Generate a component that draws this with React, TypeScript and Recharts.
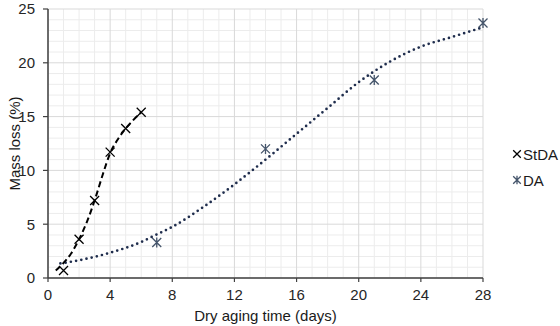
import { ComposedChart, Line, Scatter, XAxis, YAxis, ReferenceLine } from "recharts";

// measured mass loss
const stdaDays = [1, 2, 3, 4, 5, 6];
const stdaLoss = [0.7, 3.6, 7.2, 11.7, 13.9, 15.4];
const daDays = [7, 14, 21, 28];
const daLoss = [3.3, 12.0, 18.4, 23.7];

// smoothed trend curves
const stdaTrendDays = [0.5, 1, 1.5, 2, 2.5, 3, 3.5, 4, 4.5, 5, 5.5, 6];
const stdaTrendLoss = [0.7, 1.4, 2.3, 3.6, 5.2, 7.2, 9.5, 11.6, 12.9, 13.9, 14.7, 15.4];
const daTrendDays = [0.8, 2, 4, 6, 7, 8, 10, 12, 14, 16, 18, 20, 22, 24, 26, 28];
const daTrendLoss = [1.35, 1.65, 2.35, 3.35, 4.05, 4.75, 6.6, 8.7, 11.0, 13.4, 15.8, 18.2, 20.1, 21.5, 22.4, 23.3];

const xTicks = [0, 4, 8, 12, 16, 20, 24, 28];
const yTicks = [0, 5, 10, 15, 20, 25];

const toPoints = (xs: number[], ys: number[]) => xs.map((x, i) => ({ x, y: ys[i] }));

const stdaData = toPoints(stdaDays, stdaLoss);
const daData = toPoints(daDays, daLoss);
const stdaTrend = toPoints(stdaTrendDays, stdaTrendLoss);
const daTrend = toPoints(daTrendDays, daTrendLoss);

// minor grid every unit, major grid on the axis ticks
const xMinor = Array.from({ length: 28 }, (_, i) => i).filter((v) => v % 4 !== 0);
const yMinor = Array.from({ length: 25 }, (_, i) => i).filter((v) => v % 5 !== 0);

const FONT = "'Liberation Sans', Arial, sans-serif";
const AXIS = "#404040";
const DA_MARK = "#44546A";
const DA_LINE = "#1F2D4D";

function CrossMark({ cx, cy, color = "#000", r = 4.5 }: { cx?: number; cy?: number; color?: string; r?: number }) {
  if (cx == null || cy == null) return null;
  return (
    <path
      d={`M${cx - r},${cy - r}L${cx + r},${cy + r}M${cx - r},${cy + r}L${cx + r},${cy - r}`}
      stroke={color}
      strokeWidth={1.3}
      fill="none"
    />
  );
}

function StarMark({ cx, cy, color = DA_MARK, r = 4.5 }: { cx?: number; cy?: number; color?: string; r?: number }) {
  if (cx == null || cy == null) return null;
  return (
    <path
      d={`M${cx - r},${cy - r}L${cx + r},${cy + r}M${cx - r},${cy + r}L${cx + r},${cy - r}M${cx},${cy - r - 0.5}L${cx},${cy + r + 0.5}`}
      stroke={color}
      strokeWidth={1.3}
      fill="none"
    />
  );
}

function LegendRow({ top, label, star }: { top: number; label: string; star?: boolean }) {
  return (
    <div style={{ position: "absolute", left: 511, top, height: 20, display: "flex", alignItems: "center" }}>
      <svg width={12} height={20}>
        {star ? <StarMark cx={6} cy={10} r={3.8} /> : <CrossMark cx={6} cy={10} r={3.8} />}
      </svg>
      <span style={{ fontSize: 15, color: "#1a1a1a" }}>{label}</span>
    </div>
  );
}

export default function App() {
  return (
    <div style={{ position: "absolute", left: 0, top: 0, width: 560, height: 326, background: "#fff", fontFamily: FONT }}>
      <ComposedChart width={560} height={326} margin={{ top: 9, right: 77, bottom: 0, left: 0 }}>
        {xMinor.map((v) => (
          <ReferenceLine key={`xm${v}`} x={v} stroke="#ececec" strokeWidth={1} />
        ))}
        {yMinor.map((v) => (
          <ReferenceLine key={`ym${v}`} y={v} stroke="#ececec" strokeWidth={1} />
        ))}
        {xTicks.map((v) => (
          <ReferenceLine key={`xM${v}`} x={v} stroke="#d9d9d9" strokeWidth={1} />
        ))}
        {yTicks.map((v) => (
          <ReferenceLine key={`yM${v}`} y={v} stroke="#d9d9d9" strokeWidth={1} />
        ))}
        <XAxis
          dataKey="x"
          type="number"
          domain={[0, 28]}
          ticks={xTicks}
          height={48}
          tickSize={4}
          tickMargin={7}
          axisLine={{ stroke: AXIS, strokeWidth: 1.5 }}
          tickLine={{ stroke: AXIS, strokeWidth: 1.2 }}
          tick={{ fill: "#262626", fontSize: 15, fontFamily: FONT }}
          label={{ value: "Dry aging time (days)", position: "insideBottom", offset: 5, fill: "#1a1a1a", fontSize: 15, fontFamily: FONT }}
        />
        <YAxis
          type="number"
          domain={[0, 25]}
          ticks={yTicks}
          width={48}
          tickSize={5}
          tickMargin={8}
          axisLine={{ stroke: AXIS, strokeWidth: 1.5 }}
          tickLine={{ stroke: AXIS, strokeWidth: 1.2 }}
          tick={{ fill: "#262626", fontSize: 15, fontFamily: FONT }}
          label={{
            content: ({ viewBox }: any) => (
              <text
                transform={`translate(${viewBox.x + 14},${viewBox.y + viewBox.height / 2}) rotate(-90)`}
                textAnchor="middle"
                dominantBaseline="central"
                fill="#1a1a1a"
                fontSize={15}
                fontFamily={FONT}
              >
                Mass loss (%)
              </text>
            ),
          }}
        />
        <Line
          data={daTrend}
          dataKey="y"
          type="monotone"
          stroke={DA_LINE}
          strokeWidth={2.7}
          strokeDasharray="0 5.3"
          strokeLinecap="round"
          dot={false}
          activeDot={false}
          isAnimationActive={false}
        />
        <Line
          data={stdaTrend}
          dataKey="y"
          type="monotone"
          stroke="#000"
          strokeWidth={2}
          strokeDasharray="6 3.5"
          dot={false}
          activeDot={false}
          isAnimationActive={false}
        />
        <Scatter data={stdaData} dataKey="y" shape={(p: any) => <CrossMark cx={p.cx} cy={p.cy} />} isAnimationActive={false} />
        <Scatter data={daData} dataKey="y" shape={(p: any) => <StarMark cx={p.cx} cy={p.cy} />} isAnimationActive={false} />
      </ComposedChart>
      <LegendRow top={144} label="StDA" />
      <LegendRow top={170} label="DA" star />
    </div>
  );
}
